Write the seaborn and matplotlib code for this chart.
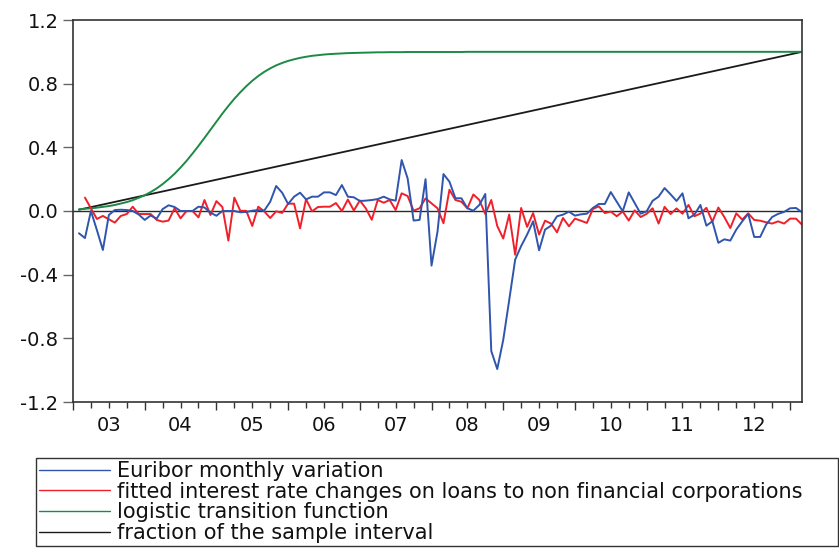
import numpy as np
import pandas as pd
import matplotlib
matplotlib.use("Agg")
import matplotlib.pyplot as plt
from matplotlib.lines import Line2D
from matplotlib.ticker import FixedLocator, FixedFormatter, NullFormatter
import seaborn as sns

# ---------------------------------------------------------------------------
# Monthly sample 2003M02 - 2013M03
# ---------------------------------------------------------------------------
first_month = "2003-02-01"
last_month = "2013-03-01"

# Euribor monthly variation
euribor = [
    -0.140, -0.170, 0.000, -0.120, -0.245, -0.025, 0.006, 0.008, 0.006, 0.000,
    -0.022, -0.056, -0.028, -0.048, 0.012, 0.036, 0.025, 0.000, 0.000, 0.000,
    0.027, 0.022, -0.010, -0.030, 0.000, 0.000, 0.000, -0.008, -0.006, 0.002,
    0.006, 0.002, 0.058, 0.157, 0.115, 0.044, 0.090, 0.115, 0.073, 0.090,
    0.090, 0.117, 0.117, 0.100, 0.163, 0.090, 0.086, 0.063, 0.065, 0.069,
    0.075, 0.090, 0.073, 0.065, 0.320, 0.205, -0.060, -0.056, 0.200, -0.343,
    -0.130, 0.232, 0.184, 0.080, 0.080, 0.017, 0.002, 0.038, 0.107, -0.880,
    -0.993, -0.810, -0.560, -0.305, -0.220, -0.148, -0.065, -0.247, -0.117, -0.092,
    -0.033, -0.023, -0.004, -0.029, -0.021, -0.017, 0.019, 0.044, 0.044, 0.119,
    0.058, -0.002, 0.117, 0.050, -0.017, -0.002, 0.064, 0.090, 0.144, 0.105,
    0.063, 0.111, -0.046, -0.023, 0.038, -0.092, -0.065, -0.200, -0.178, -0.186,
    -0.117, -0.065, -0.018, -0.163, -0.163, -0.085, -0.038, -0.018, -0.006, 0.017,
    0.019, -0.008,
]

# Fitted interest rate changes on loans to non financial corporations
fitted = [
    np.nan, 0.084, 0.017, -0.050, -0.031, -0.052, -0.073, -0.031, -0.019, 0.027,
    -0.019, -0.019, -0.019, -0.056, -0.067, -0.060, 0.017, -0.046, 0.000, 0.000,
    -0.040, 0.069, -0.025, 0.062, 0.025, -0.186, 0.084, 0.001, 0.001, -0.094,
    0.027, -0.002, -0.044, -0.002, -0.012, 0.046, 0.046, -0.109, 0.074, -0.002,
    0.025, 0.027, 0.027, 0.050, 0.000, 0.072, 0.003, 0.066, 0.017, -0.055,
    0.069, 0.052, 0.069, 0.006, 0.111, 0.094, 0.002, 0.017, 0.079, 0.048,
    0.017, -0.077, 0.134, 0.069, 0.058, 0.017, 0.104, 0.069, -0.019, 0.069,
    -0.094, -0.173, -0.022, -0.275, 0.019, -0.100, -0.013, -0.148, -0.061, -0.079,
    -0.134, -0.044, -0.096, -0.048, -0.061, -0.075, 0.013, 0.029, -0.013, -0.004,
    -0.033, -0.003, -0.060, 0.004, -0.038, -0.018, 0.017, -0.079, 0.026, -0.019,
    0.016, -0.017, 0.038, -0.033, -0.016, 0.020, -0.067, 0.022, -0.038, -0.107,
    -0.015, -0.054, -0.015, -0.056, -0.061, -0.071, -0.079, -0.065, -0.079, -0.048,
    -0.048, -0.086,
]

# Logistic transition function
logistic = [
    0.011, 0.014, 0.017, 0.021, 0.026, 0.031, 0.038, 0.047, 0.056, 0.068,
    0.083, 0.099, 0.119, 0.142, 0.169, 0.200, 0.234, 0.273, 0.315, 0.361,
    0.409, 0.459, 0.510, 0.561, 0.612, 0.660, 0.705, 0.746, 0.784, 0.818,
    0.848, 0.874, 0.896, 0.915, 0.930, 0.943, 0.953, 0.962, 0.969, 0.975,
    0.979, 0.983, 0.986, 0.988, 0.990, 0.992, 0.993, 0.994, 0.995, 0.996,
    0.997, 0.997, 0.998, 0.998, 0.998, 0.999, 0.999, 0.999, 0.999, 0.999,
    0.999, 0.999, 0.999, 0.999, 0.999, 1.000, 1.000, 1.000, 1.000, 1.000,
    1.000, 1.000, 1.000, 1.000, 1.000, 1.000, 1.000, 1.000, 1.000, 1.000,
    1.000, 1.000, 1.000, 1.000, 1.000, 1.000, 1.000, 1.000, 1.000, 1.000,
    1.000, 1.000, 1.000, 1.000, 1.000, 1.000, 1.000, 1.000, 1.000, 1.000,
    1.000, 1.000, 1.000, 1.000, 1.000, 1.000, 1.000, 1.000, 1.000, 1.000,
    1.000, 1.000, 1.000, 1.000, 1.000, 1.000, 1.000, 1.000, 1.000, 1.000,
    1.000, 1.000,
]

# Fraction of the sample interval (straight line: first and last observation)
fraction_ends = [0.008, 1.000]

series_labels = [
    "Euribor monthly variation",
    "fitted interest rate changes on loans to non financial corporations",
    "logistic transition function",
    "fraction of the sample interval",
]
year_labels = ["03", "04", "05", "06", "07", "08", "09", "10", "11", "12"]
y_ticks = [-1.2, -0.8, -0.4, 0.0, 0.4, 0.8, 1.2]
y_tick_labels = ["-1.2", "-0.8", "-0.4", "0.0", "0.4", "0.8", "1.2"]

BLUE = "#2f55ad"
RED = "#f0202a"
GREEN = "#1c8a45"
BLACK = "#1a1a1a"

# ---------------------------------------------------------------------------
dates = pd.date_range(first_month, last_month, freq="MS")
t = np.asarray(dates.year + (dates.month - 1) / 12.0, dtype=float)
df = pd.DataFrame({"t": t, "euribor": euribor, "fitted": fitted,
                   "logistic": logistic})
line_df = pd.DataFrame({"t": [t[0], t[-1]], "fraction": fraction_ends})

sns.set_style("ticks")
plt.rcParams["font.family"] = ["DejaVu Sans"]
plt.rcParams["axes.unicode_minus"] = False

W, H = 839, 552
fig = plt.figure(figsize=(W / 100, H / 100), dpi=100)
ax = fig.add_axes([73 / W, 1 - 402 / H, (802 - 73) / W, (402 - 20) / H])

ax.axhline(0.0, color="#2a2a2a", lw=1.0, zorder=1)
kw = dict(ax=ax, estimator=None, sort=False, legend=False)
sns.lineplot(data=line_df, x="t", y="fraction", color=BLACK, lw=1.3, **kw)
sns.lineplot(data=df, x="t", y="logistic", color=GREEN, lw=1.4, **kw)
sns.lineplot(data=df, x="t", y="fitted", color=RED, lw=1.4, **kw)
sns.lineplot(data=df, x="t", y="euribor", color=BLUE, lw=1.4, **kw)

ax.set_xlim(2003.0, t[-1])
ax.set_ylim(-1.2, 1.2)
ax.set_xlabel("")
ax.set_ylabel("")

# years on major ticks, quarters on minor ticks, year labels mid-year
years = list(range(2003, 2014))
ax.xaxis.set_major_locator(FixedLocator(years))
ax.xaxis.set_major_formatter(NullFormatter())
quarters = [y + q / 4 for y in range(2003, 2013) for q in (1, 2, 3)]
ax.xaxis.set_minor_locator(FixedLocator(quarters))
minor_labels = []
for q in quarters:
    if abs(q % 1 - 0.5) < 1e-9:
        minor_labels.append(year_labels[int(q) - 2003])
    else:
        minor_labels.append("")
ax.xaxis.set_minor_formatter(FixedFormatter(minor_labels))

ax.yaxis.set_major_locator(FixedLocator(y_ticks))
ax.yaxis.set_major_formatter(FixedFormatter(y_tick_labels))

ax.tick_params(axis="x", which="major", direction="out", length=5.5,
               width=1.0, color="#333333")
ax.tick_params(axis="x", which="minor", direction="out", length=4,
               width=1.0, color="#333333", labelsize=14, pad=6,
               labelcolor="#111111")
ax.tick_params(axis="y", which="major", direction="out", length=7.5,
               width=1.0, color="#666666", labelsize=14, pad=3,
               labelcolor="#111111")

for side in ("top", "right", "bottom", "left"):
    ax.spines[side].set_visible(True)
    ax.spines[side].set_color("#333333")
    ax.spines[side].set_linewidth(1.2)

handles = [Line2D([], [], color=c, lw=1.0) for c in (BLUE, RED, GREEN, BLACK)]
leg = fig.legend(handles, series_labels, loc="upper left", mode="expand",
                 bbox_to_anchor=(36 / W, 0, (838 - 36) / W, 1 - 458 / H),
                 borderaxespad=0, frameon=True, fancybox=False, framealpha=1,
                 edgecolor="#333333", fontsize=15, borderpad=0.15,
                 handlelength=3.4, handletextpad=0.34, labelspacing=0.03,
                 labelcolor="#111111")
leg.get_frame().set_linewidth(1.0)

fig.savefig("out.png", dpi=100)
